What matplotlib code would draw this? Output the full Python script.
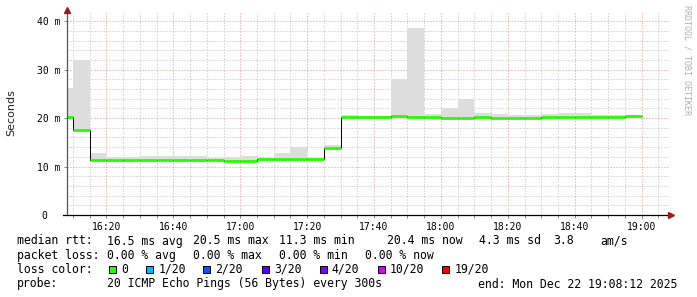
import matplotlib
matplotlib.use("Agg")
import matplotlib.pyplot as plt
from matplotlib.lines import Line2D
from matplotlib.patches import Rectangle
import numpy as np

# time in minutes after 16:00, bins of 5 minutes (first one partial, starts 16:08:12)
bin_edges = [8.2, 10, 15, 20, 25, 30, 35, 40, 45, 50, 55, 60, 65, 70, 75, 80, 85,
             90, 95, 100, 105, 110, 115, 120, 125, 130, 135, 140, 145, 150, 155,
             160, 165, 170, 175, 180]
# median rtt (ms)
median_ms = [20.3, 17.6, 11.4, 11.4, 11.4, 11.4, 11.4, 11.4, 11.4, 11.4, 11.2,
             11.2, 11.5, 11.5, 11.5, 11.5, 13.9, 20.2, 20.2, 20.3, 20.4, 20.3,
             20.3, 20.1, 20.1, 20.3, 20.1, 20.1, 20.1, 20.3, 20.3, 20.3, 20.3,
             20.3, 20.4]
# smoke band (ms)
smoke_lo = [19.9, 17.3, 11.1, 11.1, 11.1, 11.1, 11.1, 11.1, 11.1, 11.1, 10.9,
            10.9, 11.2, 11.2, 11.2, 11.2, 13.6, 19.9, 19.9, 20.0, 20.1, 20.0,
            20.0, 19.8, 19.8, 20.0, 19.8, 19.8, 19.8, 20.0, 20.0, 20.0, 20.0,
            20.0, 20.1]
smoke_hi = [26.3, 32.1, 12.9, 11.9, 11.9, 12.2, 12.2, 12.2, 12.2, 11.8, 12.0,
            12.2, 11.8, 12.8, 14.0, 11.8, 14.4, 20.6, 20.5, 20.5, 28.0, 38.6,
            20.8, 22.1, 23.9, 21.0, 20.9, 20.6, 20.6, 20.9, 21.0, 21.0, 20.7,
            20.6, 20.7]

x_ticks = [20, 40, 60, 80, 100, 120, 140, 160, 180]
x_labels = ["16:20", "16:40", "17:00", "17:20", "17:40", "18:00", "18:20", "18:40", "19:00"]
y_ticks = [0, 10, 20, 30, 40]
y_labels = ["0  ", "10 m", "20 m", "30 m", "40 m"]

legend_rtt = ["median rtt:", "16.5 ms avg", "20.5 ms max", "11.3 ms min",
              "20.4 ms now", "4.3 ms sd", "3.8", "am/s"]
legend_loss = ["packet loss:", "0.00 % avg", "0.00 % max", "0.00 % min", "0.00 % now"]
loss_labels = ["0", "1/20", "2/20", "3/20", "4/20", "10/20", "19/20"]
loss_colors = ["#26ff00", "#00b8ff", "#0059ff", "#5e00ff", "#7e00ff", "#dd00ff", "#ff0000"]
probe_text = ["probe:", "20 ICMP Echo Pings (56 Bytes) every 300s",
              "end: Mon Dec 22 19:08:12 2025"]

W, H = 697, 297
MONO = "DejaVu Sans Mono"


def fx(x):
    return x / W


def fy(y):
    return 1 - y / H


fig = plt.figure(figsize=(W / 100, H / 100), dpi=100)
fig.patch.set_facecolor("white")
ax = fig.add_axes([fx(67), fy(215), (669 - 67) / W, (215 - 13) / H])

edges = np.array(bin_edges)
ax.stairs(smoke_hi, edges, baseline=smoke_lo, fill=True, color="#dddddd", zorder=2)
ax.stairs(median_ms, edges, baseline=None, color="black", lw=0.7, zorder=3)
ax.hlines(median_ms, edges[:-1], edges[1:], color="#26ff00", lw=2.0, zorder=4)

ax.set_xlim(8.2, 188.2)
ax.set_ylim(0, 41.7)

ax.set_xticks(x_ticks)
ax.set_xticklabels(x_labels, family=MONO, fontsize=7)
ax.set_xticks(np.arange(10, 190, 5), minor=True)
ax.set_yticks(y_ticks)
ax.set_yticklabels(y_labels, family=MONO, fontsize=7)
ax.set_yticks(np.arange(0, 42, 2), minor=True)
ax.tick_params(axis="both", which="major", length=2, width=0.7, color="#888888", pad=3)
ax.tick_params(axis="x", which="minor", length=2, width=0.7, color="#888888")
ax.tick_params(axis="y", which="minor", length=0)

dots = (0, (1, 2))
ax.grid(which="minor", color="#bdbdbd", lw=0.72, ls=dots, zorder=1)
ax.grid(which="major", color="#e49494", lw=0.72, ls=dots, zorder=1)
for s in ax.spines.values():
    s.set_visible(False)

# axes with arrows
fig.add_artist(Line2D([fx(67), fx(67)], [fy(215), fy(10)], color="#555555", lw=0.9))
fig.add_artist(Line2D([fx(63), fx(670)], [fy(215), fy(215)], color="black", lw=0.9))
fig.add_artist(Line2D([fx(67)], [fy(10)], marker="^", ms=4.5, color="#9b1c1c"))
fig.add_artist(Line2D([fx(671)], [fy(215)], marker=">", ms=4.5, color="#9b1c1c"))

fig.text(fx(11), fy(113), "Seconds", rotation=90, ha="center", va="center",
         fontsize=8, color="#222222")
fig.text(fx(687), fy(5), "RRDTOOL / TOBI OETIKER", rotation=270, ha="center",
         va="top", family=MONO, fontsize=6, color="#b0b0b0")

fs = 8.3
for txt, x in zip(legend_rtt, [16.7, 107.3, 193.3, 279.3, 386.7, 479, 553.3, 600]):
    fig.text(fx(x), fy(241), txt, family=MONO, fontsize=fs, va="center")
for txt, x in zip(legend_loss, [16.7, 107.3, 193.3, 279.3, 365]):
    fig.text(fx(x), fy(255.5), txt, family=MONO, fontsize=fs, va="center")
fig.text(fx(16.7), fy(269.5), "loss color:", family=MONO, fontsize=fs, va="center")
for lab, col, x in zip(loss_labels, loss_colors, [109, 146, 203.3, 261.7, 319.5, 377.7, 442.3]):
    fig.add_artist(Rectangle((fx(x), fy(273)), 7 / W, 7 / H, facecolor=col,
                             edgecolor="black", lw=0.7))
    fig.text(fx(x + 12.3), fy(269.5), lab, family=MONO, fontsize=fs, va="center")
for txt, x in zip(probe_text, [16.7, 107.3, 478]):
    fig.text(fx(x), fy(284), txt, family=MONO, fontsize=fs, va="center")

fig.savefig("out.png", dpi=100)
